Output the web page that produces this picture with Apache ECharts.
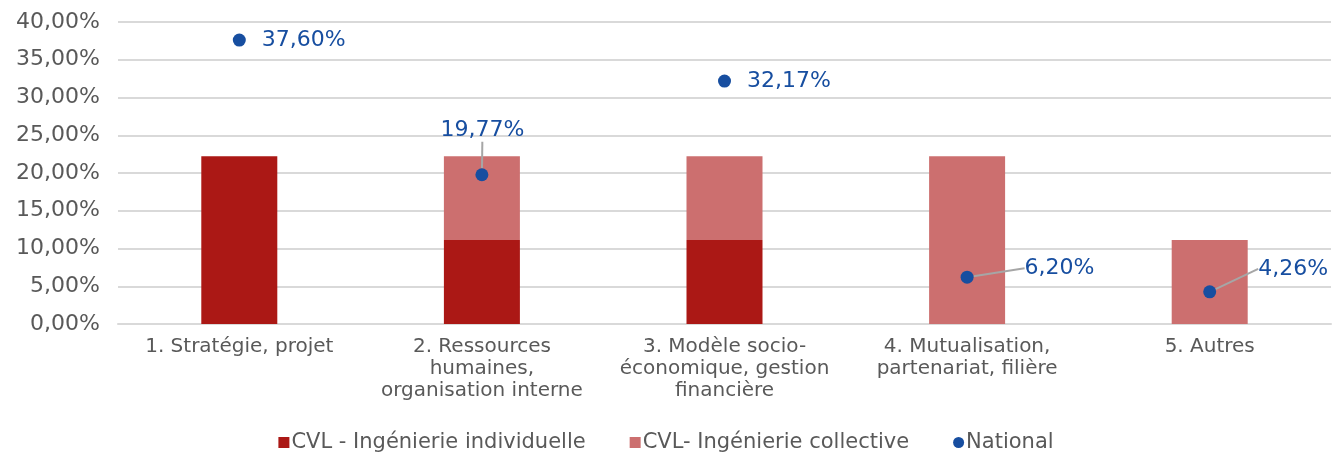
<!DOCTYPE html>
<html>
<head>
<meta charset="utf-8">
<script src="https://cdn.jsdelivr.net/npm/echarts@6/dist/echarts.min.js"></script>
<style>
  html, body { margin: 0; padding: 0; background: #fff; }
  #chart { width: 1332px; height: 454px; }
</style>
</head>
<body>
<div id="chart"></div>
<script>
var categories = [
  '1. Stratégie, projet',
  '2. Ressources\nhumaines,\norganisation interne',
  '3. Modèle socio-\néconomique, gestion\nfinancière',
  '4. Mutualisation,\npartenariat, filière',
  '5. Autres'
];
var individuelle = [22.22, 11.11, 11.11, 0, 0];
var collective = [0, 11.11, 11.11, 22.22, 11.11];
var national = [37.60, 19.77, 32.17, 6.20, 4.26];
var yTicks = { min: 0, max: 40, interval: 5 };

// label offsets for the national points (px), and which ones get a leader line
var labelShift = [
  { dx: 0, dy: 0 },
  { dx: -64, dy: -44 },
  { dx: 0, dy: 0 },
  { dx: 35, dy: -9 },
  { dx: 26, dy: -23 }
];
var withLine = [false, true, false, true, true];

function pct(v) {
  return v.toFixed(2).replace('.', ',') + '%';
}

var chart = echarts.init(document.getElementById('chart'));
var option = {
  animation: false,
  textStyle: { fontFamily: 'DejaVu Sans' },
  grid: { left: 118, right: 1, top: 22, bottom: 130 },
  legend: {
    top: 427,
    left: 'center',
    itemWidth: 11,
    itemHeight: 11,
    itemGap: 44,
    textStyle: { color: '#595959', fontSize: 21, fontFamily: 'DejaVu Sans', padding: [0, 0, 0, -3] },
    data: [
      { name: 'CVL - Ingénierie individuelle', icon: 'rect' },
      { name: 'CVL- Ingénierie collective', icon: 'rect' },
      { name: 'National', icon: 'circle' }
    ]
  },
  xAxis: {
    type: 'category',
    data: categories,
    axisLine: { lineStyle: { color: '#D9D9D9', width: 2 } },
    axisTick: { show: false },
    axisLabel: {
      color: '#595959',
      fontSize: 20,
      fontFamily: 'DejaVu Sans',
      lineHeight: 22,
      margin: 12,
      interval: 0
    }
  },
  yAxis: {
    type: 'value',
    min: yTicks.min,
    max: yTicks.max,
    interval: yTicks.interval,
    axisLine: { show: false },
    axisTick: { show: false },
    splitLine: { lineStyle: { color: '#D9D9D9', width: 2 } },
    axisLabel: {
      color: '#595959',
      fontSize: 22,
      fontFamily: 'DejaVu Sans',
      margin: 18,
      formatter: function (v) { return pct(v); }
    }
  },
  series: [
    {
      name: 'CVL - Ingénierie individuelle',
      type: 'bar',
      stack: 'cvl',
      barWidth: 76,
      itemStyle: { color: '#AB1815' },
      data: individuelle
    },
    {
      name: 'CVL- Ingénierie collective',
      type: 'bar',
      stack: 'cvl',
      barWidth: 76,
      itemStyle: { color: '#CC6F6F' },
      data: collective
    },
    {
      name: 'National',
      type: 'scatter',
      symbol: 'circle',
      symbolSize: 13,
      itemStyle: { color: '#174EA0', opacity: 1 },
      label: {
        show: true,
        position: 'right',
        distance: 16,
        color: '#174EA0',
        fontSize: 22,
        fontFamily: 'DejaVu Sans',
        formatter: function (p) { return pct(p.value); }
      },
      labelLine: { show: true, lineStyle: { color: '#A6A6A6', width: 2 } },
      labelLayout: function (p) {
        return labelShift[p.dataIndex];
      },
      data: national.map(function (v, i) {
        return { value: v, labelLine: { show: withLine[i] } };
      })
    }
  ]
};
chart.setOption(option);
window.addEventListener('resize', function () { chart.resize(); });
</script>
</body>
</html>
